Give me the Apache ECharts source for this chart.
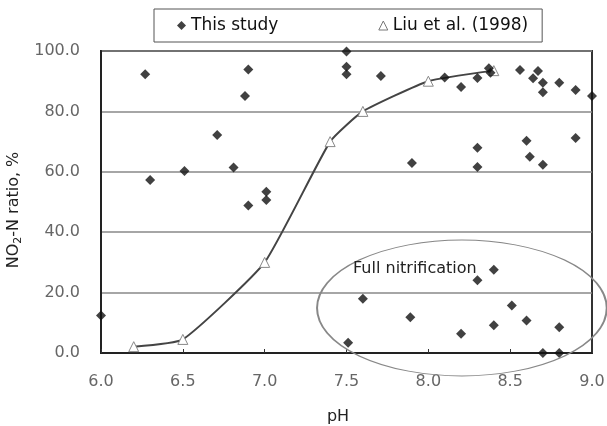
<!DOCTYPE html>
<html>
<head>
<meta charset="utf-8">
<script src="https://cdn.jsdelivr.net/npm/echarts@6/dist/echarts.min.js"></script>
<style>
  html, body { margin: 0; padding: 0; background: #fff; }
  #chart { width: 607px; height: 426px; }
</style>
</head>
<body>
<div id="chart"></div>
<script>
// pH values and NO2-N ratio (%) for this study
const studyPH = [6.0, 6.27, 6.30, 6.51, 6.71, 6.81, 6.88, 6.90, 6.90, 7.01, 7.01,
  7.50, 7.50, 7.50, 7.51, 7.60, 7.71, 7.89, 7.90, 8.10, 8.20, 8.20, 8.30, 8.30, 8.30, 8.30,
  8.37, 8.38, 8.40, 8.40, 8.51, 8.56, 8.60, 8.60, 8.62, 8.64, 8.67, 8.70, 8.70, 8.70, 8.70,
  8.80, 8.80, 8.80, 8.90, 8.90, 9.0]
const studyRatio = [12.4, 92.3, 57.3, 60.3, 72.2, 61.4, 85.1, 93.9, 48.8, 53.4, 50.7,
  99.8, 94.8, 92.3, 3.4, 18.0, 91.7, 11.8, 62.9, 91.2, 88.1, 6.4, 91.1, 68.0, 61.6, 24.1,
  94.3, 92.8, 27.6, 9.2, 15.7, 93.7, 70.3, 10.8, 65.0, 91.0, 93.4, 89.5, 86.3, 62.3, 0,
  89.5, 8.5, 0, 87.1, 71.2, 85.1]

// Liu et al. (1998)
const liuPH = [6.2, 6.5, 7.0, 7.4, 7.6, 8.0, 8.4]
const liuRatio = [2.1, 4.5, 30, 70, 80, 90, 93.5]

const xTicks = [6.0, 6.5, 7.0, 7.5, 8.0, 8.5, 9.0]
const yTicks = [0, 20, 40, 60, 80, 100]

const chart = echarts.init(document.getElementById('chart'))
const font = '"DejaVu Sans", sans-serif'

const option = {
  animation: false,
  grid: {
    left: 101, right: 15, top: 51, bottom: 73,
    outerBoundsMode: 'none',
    show: true, borderColor: '#333', borderWidth: 2
  },
  legend: {
    left: 154, top: 9,
    padding: [8, 14, 8, 23],
    borderColor: '#555', borderWidth: 1,
    itemWidth: 9, itemHeight: 9, itemGap: 100,
    textStyle: { fontFamily: font, fontSize: 17, color: '#111' },
    data: [
      { name: 'This study', icon: 'diamond', itemStyle: { color: '#111' } },
      { name: 'Liu et al. (1998)', icon: 'triangle',
        itemStyle: { color: '#fff', borderColor: '#777', borderWidth: 1 } }
    ]
  },
  xAxis: {
    type: 'value',
    min: xTicks[0], max: xTicks[xTicks.length - 1], interval: 0.5,
    name: 'pH', nameLocation: 'middle', nameGap: 56,
    nameTextStyle: { fontFamily: font, fontSize: 16, color: '#222', padding: [0, 17, 0, 0] },
    axisLine: { lineStyle: { color: '#222', width: 2 } },
    axisTick: { inside: true, length: 4, lineStyle: { color: '#333' } },
    axisLabel: { margin: 21, fontFamily: font, fontSize: 16, color: '#666',
      formatter: v => v.toFixed(1) },
    splitLine: { show: false }
  },
  yAxis: {
    type: 'value',
    min: yTicks[0], max: yTicks[yTicks.length - 1], interval: 20,
    name: 'NO{sub|2}-N ratio, %', nameLocation: 'middle', nameGap: 75, nameRotate: 90,
    nameTextStyle: {
      fontFamily: font, fontSize: 16, color: '#222', padding: [0, 16, 0, 0],
      rich: { sub: { fontFamily: font, fontSize: 11, color: '#222', verticalAlign: 'bottom', padding: [7, 0, 0, 0] } }
    },
    axisLine: { show: true, lineStyle: { color: '#222', width: 2 } },
    axisTick: { show: false },
    axisLabel: { margin: 21, fontFamily: font, fontSize: 16, color: '#666',
      formatter: v => v.toFixed(1) },
    splitLine: { lineStyle: { color: '#888', width: 1.5 } }
  },
  series: [
    {
      name: 'This study',
      type: 'scatter',
      symbol: 'diamond',
      symbolSize: 10,
      itemStyle: { color: '#111' },
      data: studyPH.map((x, i) => [x, studyRatio[i]]),
      z: 3
    },
    {
      name: 'Liu et al. (1998)',
      type: 'line',
      smooth: 0.15,
      symbol: 'triangle',
      symbolSize: 10,
      showAllSymbol: true,
      lineStyle: { color: '#444', width: 2 },
      itemStyle: { color: '#fff', borderColor: '#888', borderWidth: 1 },
      data: liuPH.map((x, i) => [x, liuRatio[i]]),
      z: 2
    }
  ]
}
chart.setOption(option)

// annotation: ellipse round the full nitrification points
const c = chart.convertToPixel({ gridIndex: 0 }, [8.205, 14.9])
const e = chart.convertToPixel({ gridIndex: 0 }, [7.32, 37.4])
const rx = c[0] - e[0]
const ry = c[1] - e[1]
const t = chart.convertToPixel({ gridIndex: 0 }, [7.54, 27.8])
chart.setOption({
  graphic: [
    {
      type: 'circle',
      x: c[0], y: c[1],
      scaleY: ry / rx,
      shape: { cx: 0, cy: 0, r: rx },
      style: { fill: 'none', stroke: '#888', lineWidth: 2, strokeNoScale: true },
      z: 10
    },
    {
      type: 'text',
      x: t[0], y: t[1],
      style: { text: 'Full nitrification', fontFamily: font, fontSize: 16, fill: '#222',
        textVerticalAlign: 'middle' },
      z: 11
    }
  ]
})
</script>
</body>
</html>
